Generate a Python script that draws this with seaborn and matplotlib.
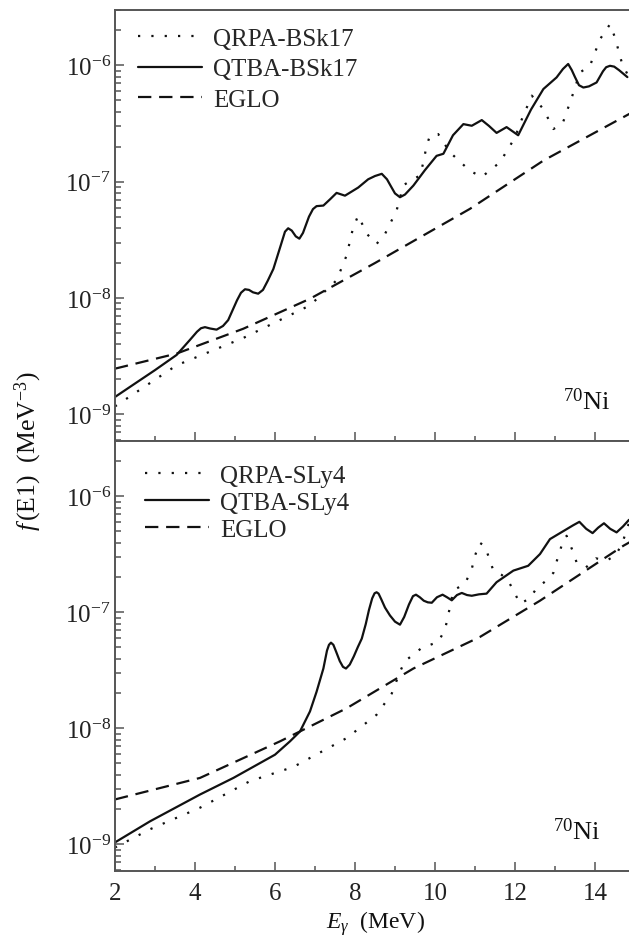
import matplotlib
matplotlib.use("Agg")
import matplotlib.pyplot as plt
import seaborn as sns
from matplotlib.ticker import (MultipleLocator, NullFormatter, LogLocator,
                               LogFormatterMathtext, FixedLocator)

# ---------------- data ----------------
# Top panel: BSk17
qrpa_bsk17_e = [2.0, 3.54, 5.21, 6.875, 7.54, 7.79, 7.95, 8.08, 8.3, 8.54, 8.75, 9.04, 9.21,
                9.45, 9.625, 9.71, 9.79, 9.875, 10.08, 10.375, 10.875, 11.17, 11.625, 12.0,
                12.15, 12.42, 12.71, 12.96, 13.19, 13.42, 13.625, 13.875, 14.125, 14.375,
                14.5, 14.67, 14.83]
qrpa_bsk17_f = [1.17e-9, 2.64e-9, 4.54e-9, 8.65e-9, 1.42e-8, 2.32e-8, 3.98e-8, 5.12e-8, 3.55e-8,
                2.92e-8, 3.55e-8, 5.65e-8, 9.33e-8, 1.05e-7, 1.13e-7, 1.47e-7, 2.04e-7, 2.49e-7,
                2.57e-7, 1.79e-7, 1.24e-7, 1.10e-7, 1.47e-7, 2.40e-7, 3.31e-7, 5.50e-7, 4.22e-7,
                2.84e-7, 3.16e-7, 5.31e-7, 8.71e-7, 9.93e-7, 1.68e-6, 2.26e-6, 1.74e-6, 1.06e-6,
                8.13e-7]

qtba_bsk17_e = [2.0, 2.5, 3.0, 3.54, 3.875, 4.05, 4.15, 4.25, 4.38, 4.54, 4.7, 4.83, 5.05, 5.15,
                5.25, 5.35, 5.45, 5.58, 5.7, 5.82, 5.96, 6.15, 6.25, 6.33, 6.42, 6.52, 6.61, 6.7,
                6.85, 6.95, 7.04, 7.21, 7.38, 7.54, 7.75, 8.08, 8.33, 8.5, 8.67, 8.8, 8.9, 9.0,
                9.125, 9.25, 9.46, 9.75, 10.04, 10.21, 10.45, 10.71, 10.92, 11.17, 11.35, 11.54,
                11.79, 12.08, 12.4, 12.71, 13.04, 13.2, 13.33, 13.42, 13.5, 13.6, 13.71, 13.85,
                14.04, 14.2, 14.28, 14.375, 14.48, 14.6, 14.81]
qtba_bsk17_f = [1.41e-9, 1.84e-9, 2.40e-9, 3.24e-9, 4.37e-9, 5.13e-9, 5.50e-9, 5.62e-9, 5.47e-9,
                5.35e-9, 5.75e-9, 6.46e-9, 9.55e-9, 1.11e-8, 1.19e-8, 1.175e-8, 1.12e-8, 1.09e-8,
                1.175e-8, 1.41e-8, 1.78e-8, 2.88e-8, 3.72e-8, 3.98e-8, 3.80e-8, 3.39e-8, 3.24e-8,
                3.63e-8, 5.01e-8, 5.82e-8, 6.17e-8, 6.24e-8, 7.08e-8, 8.02e-8, 7.59e-8, 8.91e-8,
                1.05e-7, 1.12e-7, 1.17e-7, 1.05e-7, 9.12e-8, 7.94e-8, 7.36e-8, 7.76e-8, 9.27e-8,
                1.26e-7, 1.67e-7, 1.74e-7, 2.51e-7, 3.13e-7, 3.03e-7, 3.39e-7, 3.02e-7, 2.63e-7,
                2.95e-7, 2.51e-7, 4.17e-7, 6.27e-7, 7.89e-7, 9.33e-7, 1.03e-6, 9.12e-7, 7.94e-7,
                6.76e-7, 6.46e-7, 6.61e-7, 7.14e-7, 8.91e-7, 9.66e-7, 9.93e-7, 9.77e-7, 9.12e-7,
                7.94e-7]

eglo_top_e = [2.0, 3.54, 5.21, 6.875, 8.5, 10.875, 12.71, 14.79, 15.0]
eglo_top_f = [2.47e-9, 3.33e-9, 5.45e-9, 9.86e-9, 2.0e-8, 5.85e-8, 1.52e-7, 3.72e-7, 4.07e-7]

# Bottom panel: SLy4
qrpa_sly4_e = [2.0, 2.875, 4.125, 5.375, 6.46, 7.79, 8.54, 8.92, 9.125, 9.25, 9.67, 10.08, 10.25,
               10.33, 10.46, 10.75, 10.92, 11.0, 11.12, 11.25, 11.375, 11.46, 11.67, 11.83, 12.0,
               12.125, 12.36, 12.54, 12.75, 12.96, 13.06, 13.17, 13.29, 13.44, 13.54, 13.775,
               14.025, 14.29, 14.525, 14.69, 14.85]
qrpa_sly4_f = [9.40e-10, 1.35e-9, 2.07e-9, 3.51e-9, 4.65e-9, 8.24e-9, 1.31e-8, 2.00e-8, 3.08e-8,
               3.80e-8, 4.94e-8, 5.56e-8, 7.08e-8, 9.40e-8, 1.55e-7, 1.76e-7, 2.37e-7, 3.08e-7,
               3.98e-7, 3.71e-7, 2.79e-7, 2.29e-7, 2.10e-7, 1.88e-7, 1.45e-7, 1.19e-7, 1.31e-7,
               1.61e-7, 1.84e-7, 2.19e-7, 2.88e-7, 3.80e-7, 4.57e-7, 3.40e-7, 2.70e-7, 2.44e-7,
               2.92e-7, 2.79e-7, 3.12e-7, 4.01e-7, 5.9e-7]

qtba_sly4_e = [2.0, 2.875, 4.125, 4.96, 6.0, 6.375, 6.625, 6.875, 7.04, 7.21, 7.3, 7.35, 7.4,
               7.46, 7.53, 7.62, 7.7, 7.775, 7.87, 7.97, 8.07, 8.17, 8.27, 8.35, 8.43, 8.49,
               8.54, 8.59, 8.66, 8.75, 8.875, 9.0, 9.125, 9.23, 9.35, 9.45, 9.525, 9.62, 9.72,
               9.82, 9.92, 10.05, 10.19, 10.3, 10.42, 10.55, 10.67, 10.8, 10.92, 11.1, 11.29,
               11.54, 11.96, 12.33, 12.625, 12.875, 13.29, 13.45, 13.61, 13.78, 13.94, 14.08,
               14.225, 14.38, 14.54, 14.7, 14.85]
qtba_sly4_f = [1.04e-9, 1.58e-9, 2.69e-9, 3.74e-9, 5.93e-9, 7.73e-9, 9.40e-9, 1.40e-8, 2.07e-8,
               3.28e-8, 4.68e-8, 5.25e-8, 5.48e-8, 5.25e-8, 4.57e-8, 3.80e-8, 3.39e-8, 3.28e-8,
               3.55e-8, 4.17e-8, 5.01e-8, 5.94e-8, 7.94e-8, 1.05e-7, 1.32e-7, 1.46e-7, 1.49e-7,
               1.45e-7, 1.29e-7, 1.10e-7, 9.40e-8, 8.32e-8, 7.83e-8, 9.12e-8, 1.17e-7, 1.38e-7,
               1.42e-7, 1.35e-7, 1.26e-7, 1.22e-7, 1.21e-7, 1.35e-7, 1.42e-7, 1.35e-7, 1.27e-7,
               1.41e-7, 1.47e-7, 1.41e-7, 1.39e-7, 1.43e-7, 1.45e-7, 1.82e-7, 2.29e-7, 2.52e-7,
               3.18e-7, 4.28e-7, 5.21e-7, 5.62e-7, 6.03e-7, 5.25e-7, 4.82e-7, 5.37e-7, 5.86e-7,
               5.25e-7, 4.89e-7, 5.50e-7, 6.27e-7]

eglo_bot_e = [2.0, 4.125, 6.125, 7.79, 9.46, 11.125, 12.625, 14.71, 15.0]
eglo_bot_f = [2.44e-9, 3.74e-9, 7.73e-9, 1.49e-8, 3.28e-8, 6.14e-8, 1.26e-7, 3.75e-7, 4.27e-7]

labels_top = ["QRPA-BSk17", "QTBA-BSk17", "EGLO"]
labels_bot = ["QRPA-SLy4", "QTBA-SLy4", "EGLO"]
x_ticks = [2, 4, 6, 8, 10, 12, 14]
x_minor_ticks = [3, 5, 7, 9, 11, 13]
y_ticks = [1e-9, 1e-8, 1e-7, 1e-6]
nucleus = r"$^{70}$Ni"

# ---------------- style ----------------
sns.set_theme(style="ticks")
plt.rcParams["font.family"] = ["Liberation Serif", "DejaVu Serif"]
plt.rcParams["mathtext.fontset"] = "custom"
plt.rcParams["mathtext.rm"] = "Liberation Serif"
plt.rcParams["mathtext.it"] = "Liberation Serif:italic"
plt.rcParams["mathtext.bf"] = "Liberation Serif:bold"

LINE = "#111111"
SPINE = "#555555"
DOT = (0, (1, 5))
DASH = (0, (6, 3.5))

fig = plt.figure(figsize=(6.29, 9.37), dpi=100)
ax_top = fig.add_axes([0.1828, 0.5283, 0.8267, 0.4600])
ax_bot = fig.add_axes([0.1828, 0.0694, 0.8267, 0.4589])


def draw(ax, series, labels):
    ax.set_yscale("log")
    styles = [DOT, "-", DASH]
    for (e, f), lab, ls in zip(series, labels, styles):
        sns.lineplot(x=e, y=f, ax=ax, color=LINE, lw=1.6, linestyle=ls,
                     label=lab, legend=False, sort=True, estimator=None,
                     solid_joinstyle="round")
    ax.set_xlim(2, 15)
    ax.set_ylim(5.9e-10, 3.0e-6)
    for s in ax.spines.values():
        s.set_color(SPINE)
        s.set_linewidth(1.4)
    ax.xaxis.set_major_locator(FixedLocator(x_ticks))
    ax.xaxis.set_minor_locator(FixedLocator(x_minor_ticks))
    ax.yaxis.set_major_locator(FixedLocator(y_ticks))
    ax.yaxis.set_major_formatter(LogFormatterMathtext())
    ax.yaxis.set_minor_locator(LogLocator(base=10, subs=range(2, 10)))
    ax.yaxis.set_minor_formatter(NullFormatter())
    ax.tick_params(axis="both", which="both", direction="in", color=SPINE,
                   top=False, right=False, labelcolor="#222222")
    ax.tick_params(axis="both", which="major", length=6.5, width=1.1, labelsize=18)
    ax.tick_params(axis="x", which="minor", length=3.5, width=1.1)
    ax.tick_params(axis="y", which="minor", length=4.5, width=1.1)
    ax.tick_params(axis="y", which="major", pad=3)
    ax.tick_params(axis="x", which="major", pad=8)
    ax.set_xlabel("")
    ax.set_ylabel("")


draw(ax_top, [(qrpa_bsk17_e, qrpa_bsk17_f), (qtba_bsk17_e, qtba_bsk17_f), (eglo_top_e, eglo_top_f)],
     labels_top)
draw(ax_bot, [(qrpa_sly4_e, qrpa_sly4_f), (qtba_sly4_e, qtba_sly4_f), (eglo_bot_e, eglo_bot_f)],
     labels_bot)

ax_top.tick_params(axis="x", which="both", labelbottom=False)

leg_kw = dict(frameon=False, loc="upper left", borderaxespad=0, borderpad=0,
              handlelength=2.55, handletextpad=0.45, prop={"size": 18})
ax_top.legend(bbox_to_anchor=(0.044, 0.960), labelspacing=0.33, **leg_kw)
ax_bot.legend(bbox_to_anchor=(0.058, 0.946), labelspacing=0.19, **leg_kw)

ax_top.text(0.952, 0.074, nucleus, transform=ax_top.transAxes, ha="right", va="baseline",
            fontsize=19, color="#111111")
ax_bot.text(0.933, 0.074, nucleus, transform=ax_bot.transAxes, ha="right", va="baseline",
            fontsize=19, color="#111111")

ax_bot.set_xlabel(r"$E_\gamma$  (MeV)", fontsize=17, labelpad=3, color="#111111")
fig.text(0.045, 0.519, r"$f\,$(E1)  (MeV$^{-3}$)", rotation=90, ha="center", va="center",
         fontsize=18.5, color="#111111")

fig.savefig("out.png", dpi=100)
